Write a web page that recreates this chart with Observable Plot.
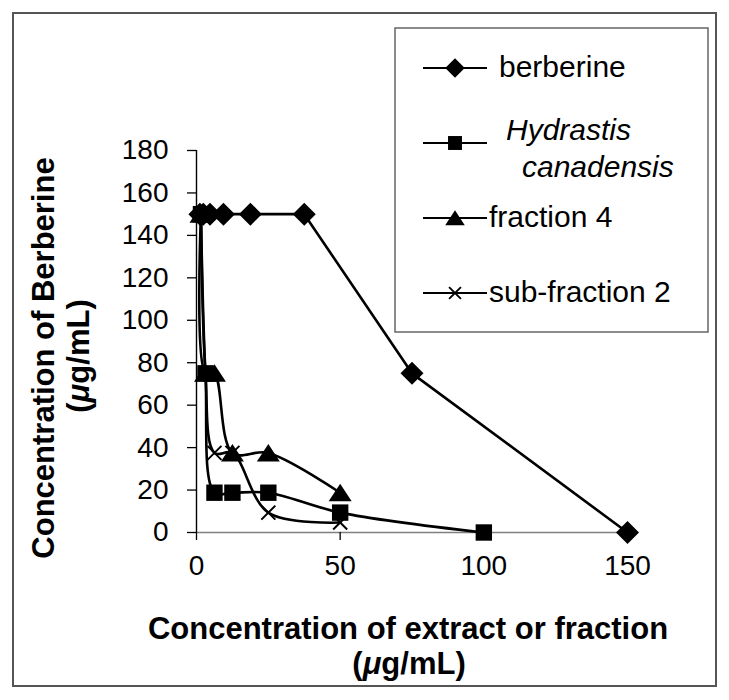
<!DOCTYPE html>
<html>
<head>
<meta charset="utf-8">
<script src="https://cdn.jsdelivr.net/npm/d3@7"></script>
<script src="https://cdn.jsdelivr.net/npm/@observablehq/plot@0.6"></script>
<style>
  html, body { margin: 0; padding: 0; background: white; }
  svg text { font-family: "Liberation Sans", Arial, sans-serif; }
</style>
</head>
<body>
<div id="chart"></div>
<script>
// ---- data ----
const seriesNames = ["berberine", "Hydrastis canadensis", "fraction 4", "sub-fraction 2"];

const berberineX = [1.17, 2.34, 4.69, 9.375, 18.75, 37.5, 75, 150];
const berberineY = [150, 150, 150, 150, 150, 150, 75, 0];

const hydrastisX = [1.56, 3.125, 6.25, 12.5, 25, 50, 100];
const hydrastisY = [150, 75, 18.75, 18.75, 18.75, 9.375, 0];

const fraction4X = [1.56, 3.125, 6.25, 12.5, 25, 50];
const fraction4Y = [150, 75, 75, 37.5, 37.5, 18.75];

const subfraction2X = [1.56, 3.125, 6.25, 12.5, 25, 50];
const subfraction2Y = [150, 75, 37.5, 37.5, 9.375, 4.69];

const xTicks = [0, 50, 100, 150];
const yTicks = [0, 20, 40, 60, 80, 100, 120, 140, 160, 180];

// ---- marker shapes (Excel-like) ----
const diamondSym = { draw(c) { const h = 11.5; c.moveTo(0, -h); c.lineTo(h, 0); c.lineTo(0, h); c.lineTo(-h, 0); c.closePath(); } };
const squareSym = { draw(c) { const h = 8.2; c.rect(-h, -h, 2 * h, 2 * h); } };
const triangleSym = { draw(c) { c.moveTo(0, -9); c.lineTo(11.5, 8.5); c.lineTo(-11.5, 8.5); c.closePath(); } };
const crossSym = { draw(c) { const h = 7; c.moveTo(-h, -h); c.lineTo(h, h); c.moveTo(h, -h); c.lineTo(-h, h); } };

const toRows = (xs, ys) => xs.map((x, i) => ({x, y: ys[i]}));
const berberine = toRows(berberineX, berberineY);
const hydrastis = toRows(hydrastisX, hydrastisY);
const fraction4 = toRows(fraction4X, fraction4Y);
const subfraction2 = toRows(subfraction2X, subfraction2Y);

const lw = 2.6;
const chart = Plot.plot({
  width: 729,
  height: 700,
  marginLeft: 196,
  marginRight: 102,
  marginTop: 150,
  marginBottom: 168,
  x: {domain: [0, 150]},
  y: {domain: [0, 180]},
  style: {fontFamily: "'Liberation Sans', Arial, sans-serif", color: "black", background: "white", overflow: "visible"},
  marks: [
    Plot.ruleY([0], {stroke: "#808080", strokeWidth: 1.6}),
    Plot.axisX({ticks: xTicks, tickSize: 8, tickPadding: 15, fontSize: 28, label: null, tickFormat: d => String(d), strokeWidth: 1.3}),
    Plot.axisY({ticks: yTicks, tickSize: 9, tickPadding: 19, fontSize: 28, label: null, tickFormat: d => String(d), strokeWidth: 1.3}),
    Plot.ruleX([0], {y1: 0, y2: 180, stroke: "black", strokeWidth: 1.4}),

    Plot.line(berberine, {x: "x", y: "y", stroke: "black", strokeWidth: lw}),
    Plot.dot(berberine, {x: "x", y: "y", symbol: diamondSym, fill: "black", stroke: "none", r: 6}),

    Plot.line(hydrastis, {x: "x", y: "y", stroke: "black", strokeWidth: lw, curve: "catmull-rom"}),
    Plot.dot(hydrastis, {x: "x", y: "y", symbol: squareSym, fill: "black", stroke: "none", r: 6}),

    Plot.line(fraction4, {x: "x", y: "y", stroke: "black", strokeWidth: lw, curve: "catmull-rom"}),
    Plot.dot(fraction4, {x: "x", y: "y", symbol: triangleSym, fill: "black", stroke: "none", r: 6}),

    Plot.line(subfraction2, {x: "x", y: "y", stroke: "black", strokeWidth: lw, curve: "catmull-rom"}),
    Plot.dot(subfraction2, {x: "x", y: "y", symbol: crossSym, fill: "none", stroke: "black", strokeWidth: 2, r: 6})
  ]
});

const svg = d3.select(chart);

// outer chart border
svg.append("rect").attr("x", 13).attr("y", 13).attr("width", 703).attr("height", 673)
  .attr("fill", "none").attr("stroke", "#555").attr("stroke-width", 2);

// axis titles
const yTitle = svg.append("g").attr("font-weight", "bold").attr("font-size", 31).attr("fill", "black").attr("text-anchor", "middle");
yTitle.append("text").attr("transform", "translate(54,358) rotate(-90)").text("Concentration of Berberine");
const yt2 = yTitle.append("text").attr("transform", "translate(89,356) rotate(-90)");
yt2.append("tspan").text("(");
yt2.append("tspan").attr("font-style", "italic").text("\u03bc");
yt2.append("tspan").text("g/mL)");

const xTitle = svg.append("g").attr("font-weight", "bold").attr("font-size", 31).attr("fill", "black").attr("text-anchor", "middle");
xTitle.append("text").attr("x", 408).attr("y", 639).text("Concentration of extract or fraction");
const xt2 = xTitle.append("text").attr("x", 409).attr("y", 674);
xt2.append("tspan").text("(");
xt2.append("tspan").attr("font-style", "italic").text("\u03bc");
xt2.append("tspan").text("g/mL)");

// legend
const lg = svg.append("g");
lg.append("rect").attr("x", 395).attr("y", 28).attr("width", 313).attr("height", 304)
  .attr("fill", "white").attr("stroke", "#666").attr("stroke-width", 1.5);
const legendRows = [
  {name: seriesNames[0], y: 68, sym: diamondSym, cross: false},
  {name: seriesNames[1], y: 143, sym: squareSym, cross: false},
  {name: seriesNames[2], y: 218, sym: triangleSym, cross: false},
  {name: seriesNames[3], y: 293, sym: crossSym, cross: true}
];
for (const r of legendRows) {
  lg.append("line").attr("x1", 423).attr("x2", 487).attr("y1", r.y).attr("y2", r.y)
    .attr("stroke", "black").attr("stroke-width", 2.2);
  const p = d3.path(); r.sym.draw(p);
  lg.append("path").attr("d", p.toString()).attr("transform", `translate(455,${r.y}) scale(0.85)`)
    .attr("fill", r.cross ? "none" : "black").attr("stroke", r.cross ? "black" : "none").attr("stroke-width", 2.2);
}
const lt = lg.append("g").attr("font-size", 30).attr("fill", "black").attr("text-anchor", "start");
lt.append("text").attr("x", 499).attr("y", 77).text(seriesNames[0]);
lt.append("text").attr("x", 506).attr("y", 140).attr("font-style", "italic").text("Hydrastis");
lt.append("text").attr("x", 522).attr("y", 177).attr("font-style", "italic").text("canadensis");
lt.append("text").attr("x", 489).attr("y", 227).text(seriesNames[2]);
lt.append("text").attr("x", 489).attr("y", 302).text(seriesNames[3]);

document.getElementById("chart").appendChild(chart);
</script>
</body>
</html>
